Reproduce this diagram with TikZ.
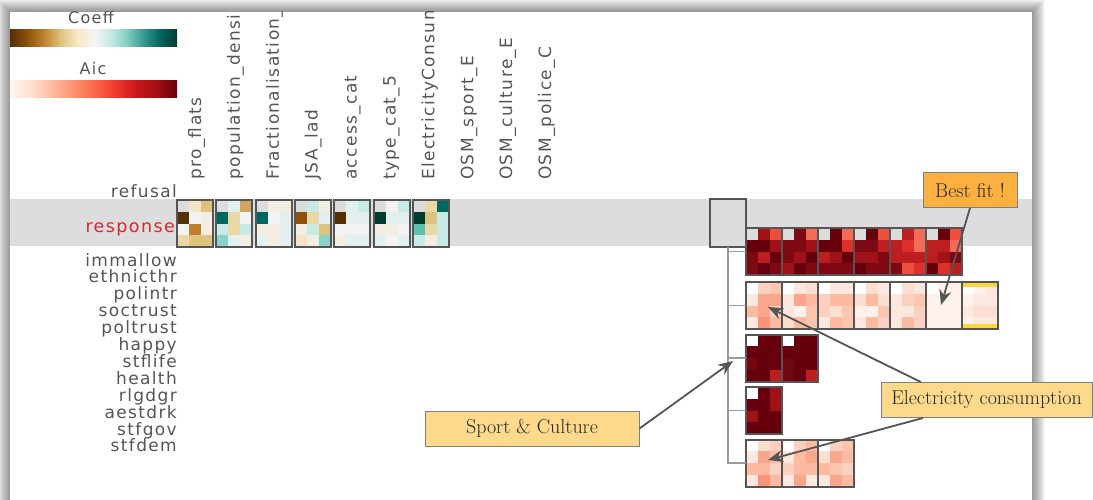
\documentclass[tikz,border=0pt]{standalone}
\usepackage{fontspec}
\usetikzlibrary{positioning,calc,arrows.meta}
\newfontfamily\labfont{DejaVu Sans}[LetterSpace=8]

% coefficient palette (brown - teal)
\definecolor{bA}{HTML}{543005}
\definecolor{bB}{HTML}{8C510A}
\definecolor{bC}{HTML}{BF812D}
\definecolor{bCl}{HTML}{D3A562}
\definecolor{bD}{HTML}{DFC27D}
\definecolor{bDl}{HTML}{EAD7A6}
\definecolor{bE}{HTML}{F3E6C6}
\definecolor{bEl}{HTML}{F4EEE2}
\definecolor{wN}{HTML}{F3F3F3}
\definecolor{gGl}{HTML}{E2F1EF}
\definecolor{gG}{HTML}{C7EAE5}
\definecolor{gH}{HTML}{8AD2C7}
\definecolor{gHd}{HTML}{5DBFB0}
\definecolor{gJ}{HTML}{01665E}
\definecolor{gK}{HTML}{003C30}
\definecolor{nc}{HTML}{DCDCDC}
% aic palette (reds)
\definecolor{rW}{HTML}{FFFFFF}
\definecolor{r0}{HTML}{FEF0EA}
\definecolor{r1l}{HTML}{FDE8DF}
\definecolor{r1}{HTML}{FDDFD2}
\definecolor{r15}{HTML}{FCD0C0}
\definecolor{r2l}{HTML}{FCC6AE}
\definecolor{r2}{HTML}{FCBBA1}
\definecolor{r25}{HTML}{F9A68D}
\definecolor{r3}{HTML}{FA9478}
\definecolor{r4}{HTML}{F26B58}
\definecolor{r45}{HTML}{EE4E3E}
\definecolor{r5}{HTML}{DE302B}
\definecolor{r6}{HTML}{BD1E1F}
\definecolor{r7}{HTML}{9E1218}
\definecolor{r75}{HTML}{7E0912}
\definecolor{r8b}{HTML}{720710}
\definecolor{r8}{HTML}{67000D}
% the rest
\definecolor{labgray}{HTML}{555555}
\definecolor{respred}{HTML}{D42A2E}
\definecolor{bandgray}{HTML}{DDDDDD}
\definecolor{framegray}{HTML}{555555}
\definecolor{treegray}{HTML}{9A9A9A}
\definecolor{bestfill}{HTML}{FBB040}
\definecolor{notefill}{HTML}{FDD98B}
\definecolor{hlyellow}{HTML}{FCD63A}

\pgfdeclarehorizontalshading{coeffbar}{100bp}{rgb(0bp)=(.329,.188,.020); rgb(25bp)=(.329,.188,.020);
  rgb(30bp)=(.549,.318,.039); rgb(35bp)=(.749,.506,.176); rgb(40bp)=(.875,.761,.490);
  rgb(45bp)=(.965,.910,.765); rgb(50bp)=(.961,.961,.961); rgb(55bp)=(.780,.918,.898);
  rgb(60bp)=(.502,.804,.757); rgb(65bp)=(.208,.592,.561); rgb(70bp)=(.004,.400,.369);
  rgb(75bp)=(0,.235,.188); rgb(100bp)=(0,.235,.188)}
\pgfdeclarehorizontalshading{aicbar}{100bp}{rgb(0bp)=(1,.961,.941); rgb(25bp)=(1,.961,.941);
  rgb(31.25bp)=(.996,.878,.824); rgb(37.5bp)=(.988,.733,.631); rgb(43.75bp)=(.988,.573,.447);
  rgb(50bp)=(.984,.416,.290); rgb(56.25bp)=(.937,.231,.173); rgb(62.5bp)=(.796,.094,.114);
  rgb(68.75bp)=(.647,.059,.082); rgb(75bp)=(.404,0,.051); rgb(100bp)=(.404,0,.051)}

\tikzset{
  rowlab/.style={anchor=base east, inner sep=0pt, text=labgray, font=\labfont\fontsize{17}{19}\selectfont},
  collab/.style={anchor=base west, rotate=90, inner sep=0pt, text=labgray, font=\labfont\fontsize{17}{19}\selectfont},
  barlab/.style={anchor=base, inner sep=0pt, text=labgray, font=\labfont\fontsize{16}{18}\selectfont},
  colorbar/.style={anchor=north west, minimum width=167pt, minimum height=17pt, inner sep=0pt},
  hmbox/.style={draw=framegray, line width=2pt, minimum width=36pt, minimum height=47pt, inner sep=0pt, outer sep=0pt},
  rootbox/.style={hmbox, fill=bandgray},
  tree/.style={draw=treegray, line width=1.5pt},
  note/.style={draw=gray, line width=1pt, fill=notefill, minimum height=35pt, inner sep=0pt,
    text=black!85, font=\fontsize{20}{22}\selectfont},
  callarrow/.style={draw=framegray, line width=1.8pt, -{Stealth[length=15pt,width=12pt]}}
}

% small heat map: name, north west corner, 12 cell colours (row by row)
\newcommand{\hmap}[3]{%
  \foreach \cc [count=\k from 0] in {#3} {
    \pgfmathtruncatemacro{\hx}{mod(\k,3)}
    \pgfmathtruncatemacro{\hy}{div(\k,3)}
    \fill[\cc] ($(#2)+(\hx*12,\hy*11.75)$) rectangle ++(12,11.75);
  }
  \node[hmbox, anchor=north west] (#1) at (#2) {};
}

\begin{document}
\begin{tikzpicture}[x=1pt,y=-1pt]
  \useasboundingbox (0,0) rectangle (1093,500);
  \fill[white] (0,0) rectangle (1093,500);

  % window shadow and panel
  \foreach \s in {1,...,13}
    \fill[black,opacity=0.035] ({10-\s},{12-\s}) rectangle ({1032+\s},513);
  \fill[white] (10,12) rectangle (1032,500);

  \begin{scope}
    \clip (10,12) rectangle (1032,500);

    % legends
    \node[barlab] (coefflab) at (91,24) {Coeff};
    \node[colorbar, shade, shading=coeffbar] (coeffbar) at (10,29) {};
    \node[barlab] (aiclab) at (93,75) {Aic};
    \node[colorbar, shade, shading=aicbar] (aicbar) at (10,80) {};

    % selected row
    \fill[bandgray] (10,199) rectangle (1032,246);

    % column names
    \foreach \lab [count=\i from 0] in {pro\_flats, population\_densi, Fractionalisation\_,
        JSA\_lad, access\_cat, type\_cat\_5, ElectricityConsum, OSM\_sport\_E,
        OSM\_culture\_E, OSM\_police\_C}
      \node[collab] (col\i) at ({201+38.9*\i},180) {\lab};

    % row names
    \node[rowlab] (refusal) at (177,197) {refusal};
    \node[rowlab, text=respred, font=\labfont\fontsize{17.5}{19}\selectfont] (response) at (175,232) {response};
    \foreach \lab [count=\i from 0] in {immallow, ethnicthr, polintr, soctrust, poltrust,
        happy, stflife, health, rlgdgr, aestdrk, stfgov, stfdem}
      \node[rowlab] (row\i) at (177,{266+16.9*\i}) {\lab};
  \end{scope}

  % coefficient maps of the response row
  \hmap{ca}{177,200}{nc,bE,bD, bA,wN,bEl, wN,bC,bEl, bDl,bD,bD}
  \hmap{cb}{216.3,200}{nc,gGl,bCl, gJ,bDl,wN, gG,bDl,gG, gH,gGl,bEl}
  \hmap{cc}{255.6,200}{nc,bEl,bEl, gJ,wN,gGl, bEl,bEl,gGl, gGl,bEl,gGl}
  \hmap{cd}{294.9,200}{nc,gG,bEl, bB,bDl,gGl, bEl,gG,bD, bE,bEl,gH}
  \hmap{ce}{334.2,200}{nc,gGl,gG, bA,gGl,gGl, wN,wN,wN, bEl,gGl,gGl}
  \hmap{cf}{373.5,200}{nc,wN,gG, gK,gGl,gGl, bEl,bEl,wN, gGl,wN,gGl}
  \hmap{cg}{412.8,200}{nc,bDl,gJ, gK,bD,gG, gHd,bDl,gG, gG,bEl,gG}

  % model tree
  \node[rootbox] (root) at (728,223) {};

  \hmap{r1a}{745.7,228}{nc,r7,r45, r8,r8,r7, r75,r6,r8, r75,r8,r75}
  \hmap{r1b}{781.7,228}{nc,r75,r4, r75,r75,r7, r75,r7,r8, r7,r8,r75}
  \hmap{r1c}{817.7,228}{nc,r8,r4, r8,r8,r5, r6,r7,r8, r75,r75,r75}
  \hmap{r1d}{853.7,228}{nc,r8,r45, r75,r75,r6, r7,r7,r75, r8,r75,r75}
  \hmap{r1e}{889.7,228}{nc,r6,r4, r6,r5,r4, r6,r6,r6, r75,r45,r5}
  \hmap{r1f}{925.7,228}{nc,r8,r45, r6,r6,r4, r6,r7,r75, r8,r5,r6}

  \hmap{r2a}{745.7,282}{rW,r15,r2l, r1l,r25,r25, r2,r25,r15, r1l,r3,r2}
  \hmap{r2b}{781.7,282}{rW,r1l,r1, r1l,r25,r2, r1l,r0,r2l, r1,r2,r2l}
  \hmap{r2c}{817.7,282}{rW,r1l,r1l, r15,r2,r2, r15,r1,r2l, r1l,r2,r2l}
  \hmap{r2d}{853.7,282}{rW,r1,r1l, r1,r2,r1, r0,r0,r2l, r1l,r2,r15}
  \hmap{r2e}{889.7,282}{rW,r1,r1l, r1l,r15,r2l, r1l,r1l,r15, r1l,r2,r15}
  \hmap{r2f}{925.7,282}{rW,r0,r0, r0,r0,r0, r0,r0,r0, r0,r0,r0}
  \hmap{r2g}{961.7,282}{rW,r0,r1l, r0,r1l,r1l, r1l,r1,r1, r0,r1l,r1l}
  \fill[hlyellow] ($(r2g.north west)+(1,1)$) rectangle ($(r2g.north east)+(-1,5)$);
  \fill[hlyellow] ($(r2g.south west)+(1,-5)$) rectangle ($(r2g.south east)+(-1,-1)$);
  \draw[framegray, line width=2pt] (r2g.north west) rectangle (r2g.south east);

  \hmap{r3a}{745.7,334.5}{rW,r8,r8, r8,r8,r8, r8b,r8,r8, r8,r8,r6}
  \hmap{r3b}{781.7,334.5}{rW,r8,r8, r8,r8,r8, r8b,r8,r8, r8b,r8,r6}

  \hmap{r4a}{745.7,387}{rW,r8,r7, r8,r8,r7, r7,r8,r8, r8,r8,r8}

  \hmap{r5a}{745.7,439.5}{rW,r1,r15, r1l,r25,r2, r2,r2,r15, r1l,r3,r2}
  \hmap{r5b}{781.7,439.5}{rW,r15,r2, r1l,r2,r25, r15,r2,r2, r1l,r25,r1l}
  \hmap{r5c}{817.7,439.5}{rW,r15,r2l, r1,r25,r2, r2,r2l,r15, r1l,r25,r2}

  \draw[tree] (root.south) |- (r1a.west);
  \draw[tree] (root.south) |- (r2a.west);
  \draw[tree] (root.south) |- (r3a.west);
  \draw[tree] (root.south) |- (r4a.west);
  \draw[tree] (root.south) |- (r5a.west);

  % notes
  \node[note, fill=bestfill, minimum width=94pt] (best) at (970,190) {Best fit !};
  \node[note, minimum width=214pt] (sport) at (532,428.5) {Sport \& Culture};
  \node[note, minimum width=211pt] (elec) at (986.5,400) {Electricity consumption};

  \coordinate (bestTip) at (941,305);
  \coordinate (elecTipA) at (768,307);
  \coordinate (elecTipB) at (768,460);
  \coordinate (sportTip) at (733,361);

  \draw[callarrow] (best.south) -- (bestTip);
  \draw[callarrow] ($(elec.north west)!.19!(elec.north east)$) -- (elecTipA);
  \draw[callarrow] ($(elec.south west)!.2!(elec.south east)$) -- (elecTipB);
  \draw[callarrow] (sport.east) -- (sportTip);
\end{tikzpicture}
\end{document}
